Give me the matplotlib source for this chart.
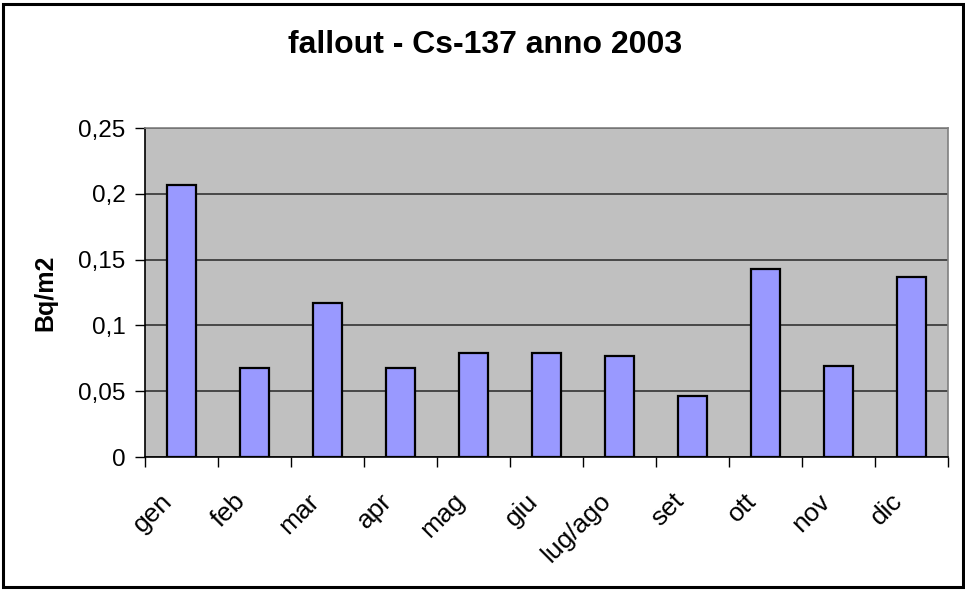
import matplotlib
matplotlib.use("Agg")
import matplotlib.pyplot as plt
import matplotlib.patches as mpatches
import matplotlib.transforms as mtransforms
from matplotlib.ticker import FuncFormatter, FixedLocator
import numpy as np

categories = ["gen", "feb", "mar", "apr", "mag", "giu", "lug/ago", "set", "ott", "nov", "dic"]
values = [0.207, 0.068, 0.117, 0.068, 0.079, 0.079, 0.077, 0.046, 0.143, 0.069, 0.137]
yticks = [0, 0.05, 0.1, 0.15, 0.2, 0.25]
title = "fallout - Cs-137 anno 2003"
ylabel = "Bq/m2"

plt.rcParams['font.family'] = ['Liberation Sans', 'DejaVu Sans']

fig = plt.figure(figsize=(9.65, 5.9), dpi=100)
ax = fig.add_axes([145/965, 1 - 457/590, (948-145)/965, (457-128)/590])
ax.set_facecolor("#C0C0C0")

x = np.arange(len(categories))
ax.bar(x, values, width=0.4, color="#9999FF", edgecolor="black", linewidth=1.6, zorder=3)

ax.set_xlim(-0.5, len(categories) - 0.5)
ax.set_ylim(0, 0.25)
ax.set_yticks(yticks)
ax.yaxis.set_major_formatter(FuncFormatter(lambda v, p: ("%g" % v).replace(".", ",")))
ax.grid(axis="y", color="#333333", linewidth=1.2, zorder=1)

ax.set_xticks(x)
ax.set_xticklabels(categories, rotation=45, ha="right", va="top", rotation_mode="anchor", fontsize=19)
ax.xaxis.set_minor_locator(FixedLocator(np.arange(-0.5, len(categories), 1.0)))
ax.tick_params(axis="x", which="major", length=0, pad=23)
ax.tick_params(axis="x", which="minor", length=7, width=1, direction="out", color="black")
ax.tick_params(axis="y", length=7, width=1, direction="out", labelsize=17.5, pad=7)
offset = mtransforms.ScaledTranslation(-21/100, 0, fig.dpi_scale_trans)
for lab in ax.get_xticklabels():
    lab.set_transform(lab.get_transform() + offset)

for s in ["top", "right"]:
    ax.spines[s].set_color("#808080")
    ax.spines[s].set_linewidth(1.2)
for s in ["left", "bottom"]:
    ax.spines[s].set_color("black")
    ax.spines[s].set_linewidth(1.2)

ax.set_ylabel(ylabel, fontsize=18, fontweight="bold", va="center")
ax.yaxis.set_label_coords((45 - 145) / 803, 0.5)
fig.text(485/965, 1 - 45/590, title, ha="center", va="center", fontsize=23, fontweight="bold")

border = mpatches.Rectangle((3/965, 3/590), 960/965, 583/590, transform=fig.transFigure,
                            fill=False, edgecolor="black", linewidth=2.2)
fig.patches.append(border)

fig.savefig("out.png", dpi=100)
